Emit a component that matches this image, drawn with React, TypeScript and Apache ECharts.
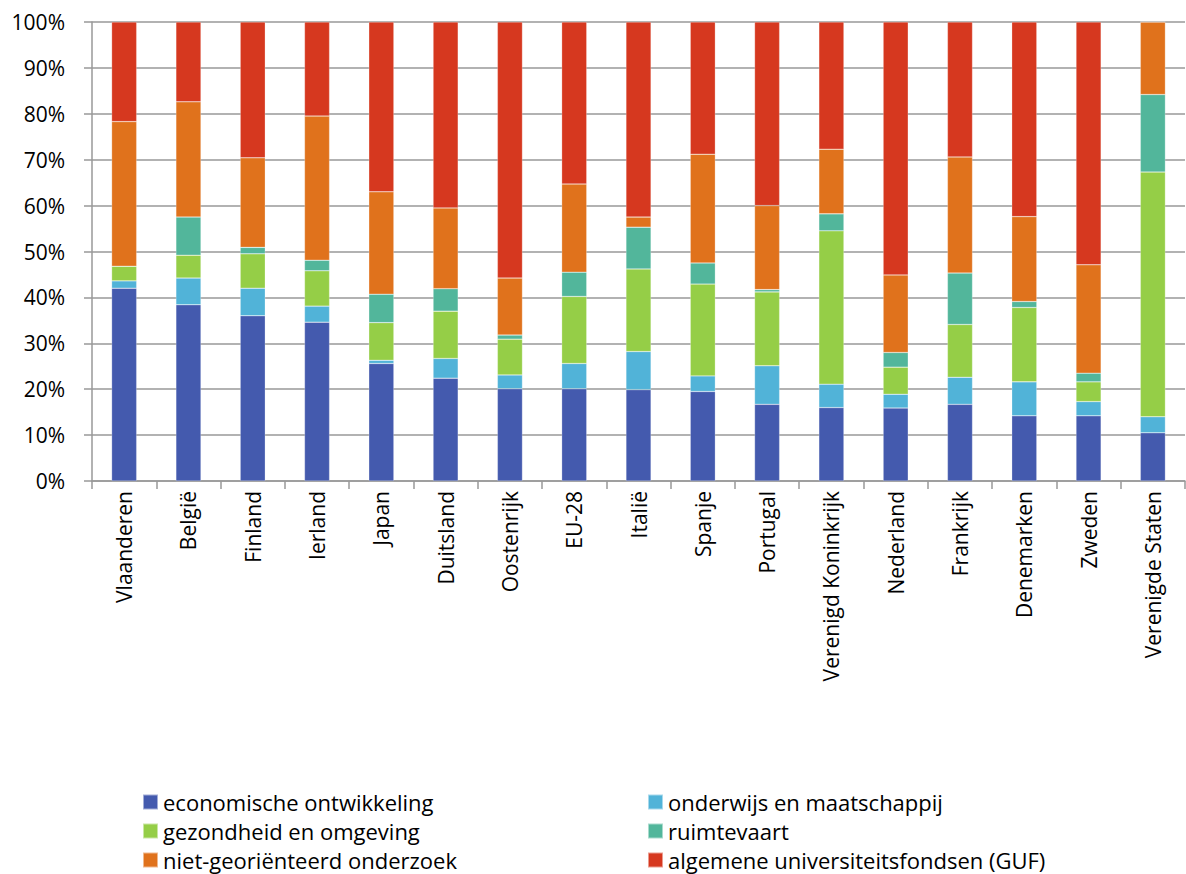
import React, { useEffect, useRef } from "react";
import * as echarts from "echarts";

const categories = ["Vlaanderen", "België", "Finland", "Ierland", "Japan", "Duitsland", "Oostenrijk", "EU-28", "Italië", "Spanje", "Portugal", "Verenigd Koninkrijk", "Nederland", "Frankrijk", "Denemarken", "Zweden", "Verenigde Staten"];

const economischeOntwikkeling = [42.0, 38.4, 36.0, 34.6, 25.6, 22.4, 20.1, 20.1, 19.9, 19.5, 16.7, 16.0, 15.9, 16.7, 14.2, 14.2, 10.5];
const onderwijsMaatschappij = [1.6, 5.8, 6.0, 3.5, 0.7, 4.3, 3.0, 5.5, 8.3, 3.4, 8.4, 5.1, 3.0, 5.9, 7.4, 3.1, 3.5];
const gezondheidOmgeving = [3.2, 5.0, 7.5, 7.7, 8.2, 10.3, 7.8, 14.6, 18.0, 20.0, 16.1, 33.4, 5.9, 11.5, 16.2, 4.3, 53.3];
const ruimtevaart = [0, 8.3, 1.4, 2.3, 6.2, 4.9, 0.9, 5.3, 9.1, 4.6, 0.5, 3.7, 3.2, 11.2, 1.3, 1.9, 16.9];
const nietGeorienteerd = [31.5, 25.1, 19.5, 31.4, 22.3, 17.6, 12.4, 19.2, 2.2, 23.7, 18.3, 14.1, 16.9, 25.3, 18.5, 23.6, 15.8];
const guf = [21.7, 17.4, 29.6, 20.5, 37.0, 40.5, 55.8, 35.3, 42.5, 28.8, 40.0, 27.7, 55.1, 29.4, 42.4, 52.9, 0];

const seriesNames = ["economische ontwikkeling", "onderwijs en maatschappij", "gezondheid en omgeving", "ruimtevaart", "niet-georiënteerd onderzoek", "algemene universiteitsfondsen (GUF)"];
const seriesData = [economischeOntwikkeling, onderwijsMaatschappij, gezondheidOmgeving, ruimtevaart, nietGeorienteerd, guf];
const colors = ["#445AAE", "#51B3D8", "#95CE47", "#52B69B", "#E0721C", "#D6381F"];

const FONT = "Open Sans";

export default function App() {
  const ref = useRef<HTMLDivElement>(null);
  useEffect(() => {
    if (!ref.current) return;
    const chart = echarts.init(ref.current, null, { renderer: "svg" });
    const legends = seriesNames.map((name, i) => ({
      orient: "horizontal",
      itemWidth: 15,
      itemHeight: 15,
      padding: 0,
      icon: "rect",
      left: i % 2 === 0 ? 142 : 647,
      top: 791 + Math.floor(i / 2) * 29,
      data: [name],
      textStyle: { fontFamily: FONT, fontSize: 22, lineHeight: 21, color: "#000" },
    }));
    chart.setOption({
      animation: false,
      color: colors,
      grid: { left: 92, right: 1, top: 22, bottom: 393, containLabel: false },
      legend: legends,
      xAxis: {
        type: "category",
        data: categories,
        axisLine: { lineStyle: { color: "#999", width: 1.5 } },
        axisTick: { show: true, length: 8, lineStyle: { color: "#999", width: 1.5 } },
        axisLabel: { rotate: 90, margin: 10, fontFamily: FONT, fontSize: 21, color: "#000", interval: 0 },
      },
      yAxis: {
        type: "value",
        min: 0,
        max: 100,
        interval: 10,
        axisLine: { show: true, lineStyle: { color: "#999", width: 1.5 } },
        axisTick: { show: true, length: 8, lineStyle: { color: "#999", width: 1.5 } },
        splitLine: { lineStyle: { color: "#999", width: 1.5 } },
        axisLabel: { formatter: "{value}%", margin: 27, fontFamily: FONT, fontSize: 21, color: "#000" },
      },
      series: seriesNames.map((name, i) => ({
        name,
        type: "bar",
        stack: "total",
        barWidth: "39%",
        data: seriesData[i],
        itemStyle: { color: colors[i], borderColor: "rgba(255,255,255,0.5)", borderWidth: 0.5 },
      })),
    });
    return () => chart.dispose();
  }, []);
  return <div ref={ref} style={{ position: "absolute", left: 0, top: 0, width: 1186, height: 874, background: "#fff" }} />;
}
